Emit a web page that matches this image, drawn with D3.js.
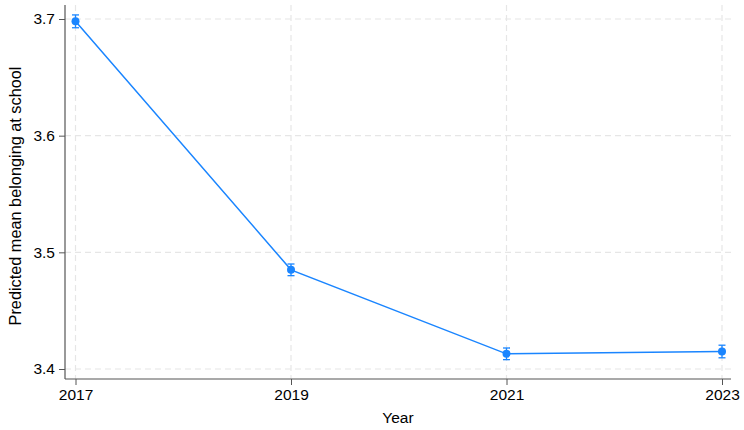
<!DOCTYPE html>
<html><head><meta charset="utf-8">
<script src="https://cdn.jsdelivr.net/npm/d3@7"></script>
<style>body{margin:0;background:#fff;} text{font-family:"Liberation Sans",Arial,Helvetica,sans-serif;}</style>
</head><body><svg id="c" width="744" height="430"></svg>
<script>
const years = [2017, 2019, 2021, 2023];
const means = [3.698, 3.485, 3.413, 3.415];
const ciHalf = [0.0055, 0.005, 0.005, 0.0054];
const yTicks = [3.4, 3.5, 3.6, 3.7];
const xTicks = [2017, 2019, 2021, 2023];

const svg = d3.select("#c");
const x = d3.scaleLinear().domain([2017, 2023]).range([75.5, 722]);
const y = d3.scaleLinear().domain([3.4, 3.7]).range([369, 19]);
const color = "#1a85ff";

// grid
const g = svg.append("g");
g.selectAll(".hg").data(yTicks).enter().append("line")
  .attr("x1", 65).attr("x2", 731).attr("y1", d => y(d)).attr("y2", d => y(d))
  .attr("stroke", "#e6e6e6").attr("stroke-width", 1.2).attr("stroke-dasharray", "6,4");
g.selectAll(".vg").data(xTicks).enter().append("line")
  .attr("y1", 5).attr("y2", 379).attr("x1", d => x(d)).attr("x2", d => x(d))
  .attr("stroke", "#e6e6e6").attr("stroke-width", 1.2).attr("stroke-dasharray", "6,4");

// axes
const yAxis = d3.axisLeft(y).tickValues(yTicks).tickFormat(d3.format(".1f")).tickSize(6).tickPadding(4);
const ya = svg.append("g").attr("transform", "translate(65,0)").call(yAxis);
ya.select(".domain").remove();
ya.append("line").attr("x1", 0).attr("x2", 0).attr("y1", 5).attr("y2", 379).attr("stroke", "#555").attr("stroke-width", 1.2);
ya.selectAll(".tick line").attr("stroke", "#555");
ya.selectAll("text").attr("font-size", 15.5).attr("fill", "#000");

const xAxis = d3.axisBottom(x).tickValues(xTicks).tickFormat(d3.format("d")).tickSize(6).tickPadding(4);
const xa = svg.append("g").attr("transform", "translate(0,379)").call(xAxis);
xa.select(".domain").remove();
xa.append("line").attr("x1", 65).attr("x2", 731).attr("y1", 0).attr("y2", 0).attr("stroke", "#555").attr("stroke-width", 1.2);
xa.selectAll(".tick line").attr("stroke", "#555");
xa.selectAll("text").attr("font-size", 15.5).attr("fill", "#000");

// titles
svg.append("text").attr("x", 398).attr("y", 423).attr("text-anchor", "middle")
  .attr("font-size", 15.5).text("Year");
svg.append("text").attr("transform", "translate(21,196) rotate(-90)").attr("text-anchor", "middle")
  .attr("font-size", 16.3).text("Predicted mean belonging at school");

// line
const data = years.map((d, i) => ({yr: d, m: means[i], h: ciHalf[i]}));
svg.append("path").datum(data)
  .attr("d", d3.line().x(d => x(d.yr)).y(d => y(d.m)))
  .attr("fill", "none").attr("stroke", color).attr("stroke-width", 1.5);

// error bars
const eb = svg.append("g").attr("stroke", color).attr("stroke-width", 1.3);
data.forEach(d => {
  eb.append("line").attr("x1", x(d.yr)).attr("x2", x(d.yr)).attr("y1", y(d.m - d.h)).attr("y2", y(d.m + d.h));
  [d.m - d.h, d.m + d.h].forEach(v => eb.append("line").attr("x1", x(d.yr) - 3.5).attr("x2", x(d.yr) + 3.5).attr("y1", y(v)).attr("y2", y(v)));
});
svg.selectAll(".pt").data(data).enter().append("circle")
  .attr("cx", d => x(d.yr)).attr("cy", d => y(d.m)).attr("r", 4).attr("fill", color);
</script></body></html>
